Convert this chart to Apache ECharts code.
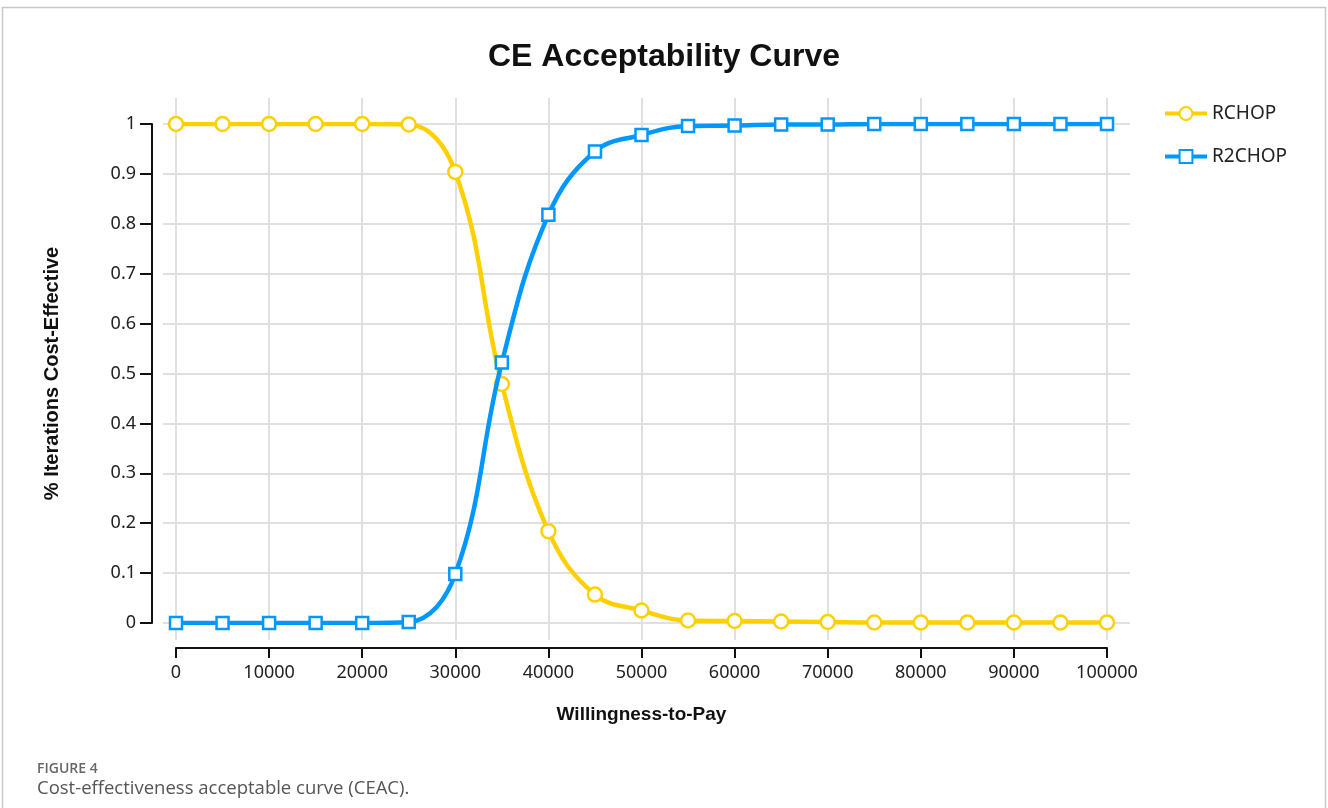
<!DOCTYPE html>
<html>
<head>
<meta charset="utf-8">
<script src="https://cdn.jsdelivr.net/npm/echarts@6/dist/echarts.min.js"></script>
<style>
html,body{margin:0;padding:0;background:#fff;}
#chart{width:1328px;height:808px;}
</style>
</head>
<body>
<div id="chart"></div>
<script>
const wtp = [0,5000,10000,15000,20000,25000,30000,35000,40000,45000,50000,55000,60000,65000,70000,75000,80000,85000,90000,95000,100000];
const rchop = [1,1,1,1,1,0.999,0.904,0.479,0.184,0.057,0.025,0.005,0.004,0.003,0.002,0.001,0.001,0.001,0.001,0.001,0.001];
const r2chop = [0,0,0,0,0,0.002,0.098,0.522,0.818,0.945,0.978,0.996,0.997,0.999,0.999,1,1,1,1,1,1];
const seriesNames = ['RCHOP','R2CHOP'];
const titleText = 'CE Acceptability Curve';
const xName = 'Willingness-to-Pay';
const yName = '% Iterations Cost-Effective';

const chart = echarts.init(document.getElementById('chart'), null, {renderer:'canvas'});
const pair = arr => wtp.map((x,i)=>[x,arr[i]]);
const labelFont = '"Noto Sans", "Open Sans", sans-serif';
const boldFont = '"Liberation Sans", Arial, sans-serif';
const hidden = {show:false};

chart.setOption({
  backgroundColor:'#fff',
  animation:false,
  title:{
    text:titleText, left:'center', top:36,
    textStyle:{fontFamily:boldFont, fontWeight:'bold', fontSize:32, color:'#111'}
  },
  legend:{
    orient:'vertical', left:1158, top:99, itemGap:24,
    itemWidth:42, itemHeight:16,
    lineStyle:{width:4},
    textStyle:{fontFamily:labelFont, fontSize:19, color:'#222'},
    data:seriesNames
  },
  grid:[
    {left:176, right:221, top:124, bottom:185},
    {left:163, right:198, top:124, bottom:185},
    {left:176, right:221, top:98, bottom:168}
  ],
  xAxis:[
    {gridIndex:0, type:'value', min:0, max:100000, interval:10000, offset:25,
     name:xName, nameLocation:'middle', nameGap:57,
     nameTextStyle:{fontFamily:boldFont, fontWeight:'bold', fontSize:19, color:'#111'},
     axisLine:{show:true, onZero:false, lineStyle:{color:'#111', width:2}},
     axisTick:{show:true, length:10, lineStyle:{color:'#111', width:2}},
     axisLabel:{fontFamily:labelFont, fontSize:18, color:'#222', margin:16, formatter:v=>String(v)},
     splitLine:{show:false}},
    {gridIndex:1, type:'value', min:0, max:1, show:false},
    {gridIndex:2, type:'value', min:0, max:100000, interval:10000,
     axisLine:hidden, axisTick:hidden, axisLabel:hidden,
     splitLine:{show:true, lineStyle:{color:'#e0e0e0', width:2}}}
  ],
  yAxis:[
    {gridIndex:0, type:'value', min:0, max:1, interval:0.1, offset:24,
     name:yName, nameLocation:'middle', nameGap:90, nameRotate:90,
     nameTextStyle:{fontFamily:boldFont, fontWeight:'bold', fontSize:20, color:'#111'},
     axisLine:{show:true, onZero:false, lineStyle:{color:'#111', width:2}},
     axisTick:{show:true, length:12, lineStyle:{color:'#111', width:2}},
     axisLabel:{fontFamily:labelFont, fontSize:18, color:'#222', margin:16,
       formatter:v=>String(Math.round(v*10)/10)},
     splitLine:{show:false}},
    {gridIndex:1, type:'value', min:0, max:1, interval:0.1,
     axisLine:hidden, axisTick:hidden, axisLabel:hidden,
     splitLine:{show:true, lineStyle:{color:'#e0e0e0', width:2}}},
    {gridIndex:2, type:'value', min:0, max:1, show:false}
  ],
  series:[
    {name:seriesNames[0], type:'line', xAxisIndex:0, yAxisIndex:0, data:pair(rchop),
     smooth:0.4, symbol:'circle', symbolSize:14, showAllSymbol:true,
     lineStyle:{color:'#FFD000', width:4.5},
     itemStyle:{color:'#fff', borderColor:'#FFD000', borderWidth:2.5},
     z:3},
    {name:seriesNames[1], type:'line', xAxisIndex:0, yAxisIndex:0, data:pair(r2chop),
     smooth:0.4, symbol:'rect', symbolSize:12, showAllSymbol:true,
     lineStyle:{color:'#0098FF', width:4.5},
     itemStyle:{color:'#fff', borderColor:'#0098FF', borderWidth:2.5},
     z:4}
  ],
  graphic:[
    {type:'rect', silent:true, shape:{x:2.5, y:7.5, width:1323, height:900},
     style:{fill:null, stroke:'#c8c8c8', lineWidth:1.5}, z:-10},
    {type:'text', left:37, top:762,
     style:{text:'FIGURE 4', font:'600 14px "Open Sans", sans-serif', fill:'#666'}},
    {type:'text', left:37, top:779,
     style:{text:'Cost-effectiveness acceptable curve (CEAC).', font:'18.5px "Open Sans", sans-serif', fill:'#555'}}
  ]
});
</script>
</body>
</html>
